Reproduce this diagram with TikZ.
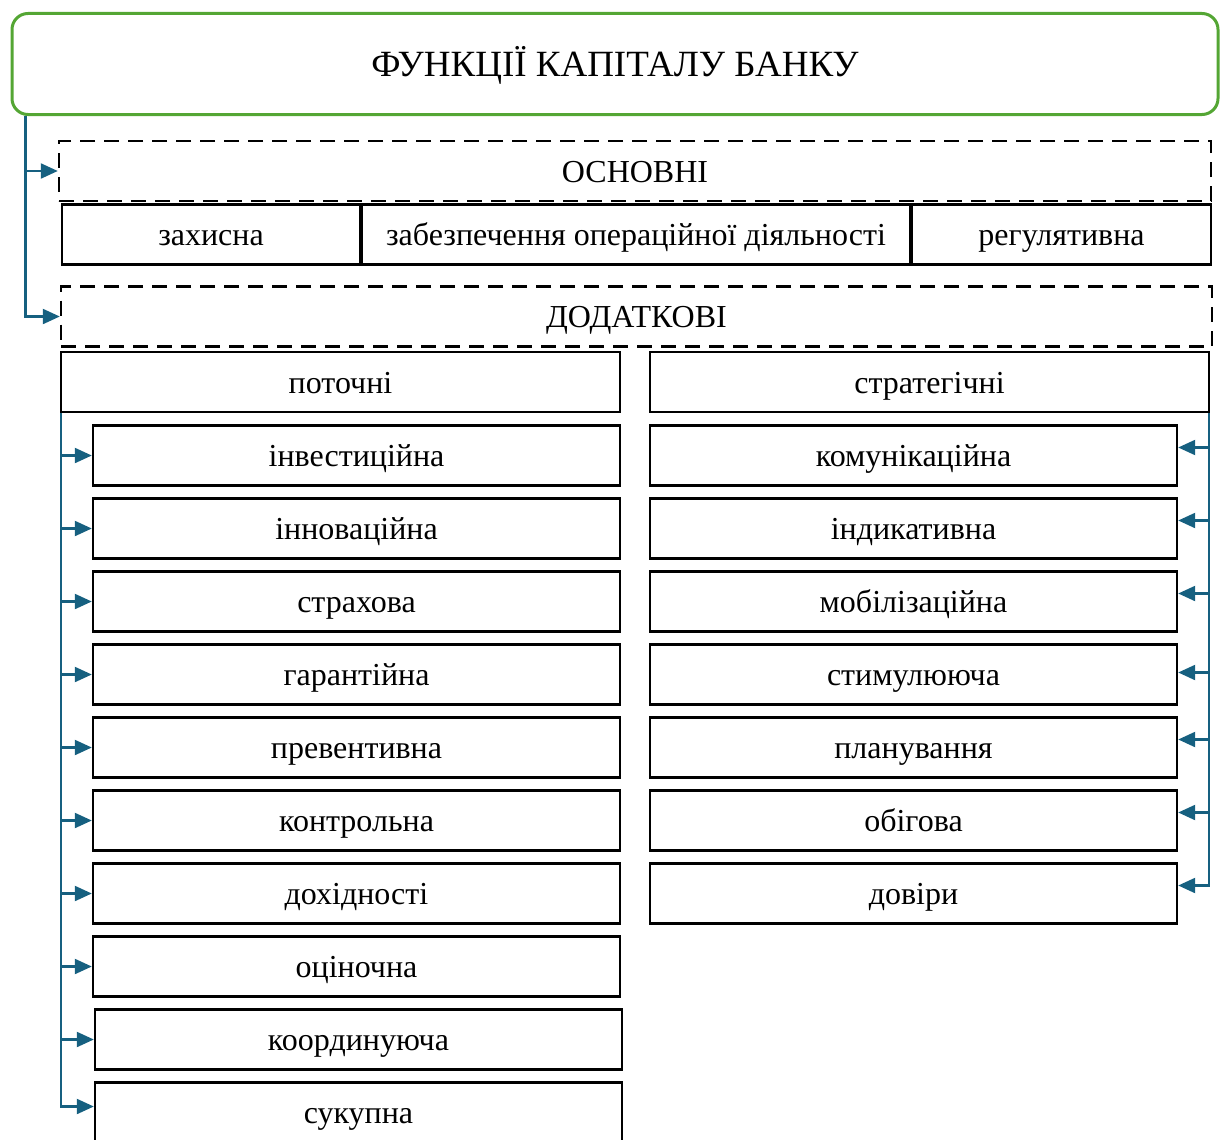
\documentclass[tikz,border=0pt]{standalone}
\usepackage{fontspec}
\setmainfont{Liberation Serif}
\usetikzlibrary{arrows.meta,positioning}
\definecolor{titlegreen}{RGB}{84,166,52}
\definecolor{linkblue}{RGB}{22,96,128}

\begin{document}
\begin{tikzpicture}[x=1pt, y=1pt, node distance=10.6pt, every node/.style={font=\fontsize{32}{38}\selectfont},
			b/.style={draw, line width=2.4pt, minimum height=60pt, inner sep=0pt, align=center, text height=24pt, text depth=2pt},
			grp/.style={b, dash pattern=on 15pt off 9pt},
			item/.style={b, minimum width=527pt},
			link/.style={draw=linkblue, line width=2.2pt, -{Triangle[length=17pt, width=15pt]}}]
			\useasboundingbox (0,0) rectangle (1221,-1140);
			% title
			\node[draw=titlegreen, line width=3pt, rounded corners=16pt, minimum width=1206pt, minimum height=101pt, text height=28pt, text depth=2pt, font=\fontsize{37}{44}\selectfont] (title) at (615,-64) {ФУНКЦІЇ КАПІТАЛУ БАНКУ};
			% main functions
			\node[grp, minimum width=1152pt] (main) at (635,-171) {ОСНОВНІ};
			\node[b, minimum width=298pt] (zakh) at (211,-234.5) {захисна};
			\node[b, minimum width=548pt] (zabez) at (636,-234.5) {забезпечення операційної діяльності};
			\node[b, minimum width=299pt] (regul) at (1061.5,-234.5) {регулятивна};
			% additional functions
			\node[grp, minimum width=1151pt] (extra) at (636.5,-316.5) {ДОДАТКОВІ};
			\node[b, minimum width=559pt] (pot) at (340.5,-382) {поточні};
			\node[b, minimum width=559pt] (strat) at (929.5,-382) {стратегічні};
			% current
			\node[item] (inv) at (356.5,-455.5) {інвестиційна};
			\node[item, below=of inv] (innov) {інноваційна};
			\node[item, below=of innov] (strakh) {страхова};
			\node[item, below=of strakh] (garant) {гарантійна};
			\node[item, below=of garant] (prev) {превентивна};
			\node[item, below=of prev] (kontr) {контрольна};
			\node[item, below=of kontr] (dokh) {дохідності};
			\node[item, below=of dokh] (otsin) {оціночна};
			\node[item, below=of otsin, xshift=2pt] (koord) {координуюча};
			\node[item, below=of koord] (sukup) {сукупна};
			% strategic
			\node[item] (komun) at (913.5,-455.5) {комунікаційна};
			\node[item, below=of komun] (indyk) {індикативна};
			\node[item, below=of indyk] (mobil) {мобілізаційна};
			\node[item, below=of mobil] (stym) {стимулююча};
			\node[item, below=of stym] (plan) {планування};
			\node[item, below=of plan] (obig) {обігова};
			\node[item, below=of obig] (dovir) {довіри};
			% connectors
			\draw[link] ([xshift=15pt]title.south west) |- (main.west);
			\draw[link] ([xshift=15pt]title.south west) |- (extra.west);
			\draw[link] ([xshift=1pt]pot.south west) |- (inv.west);
			\draw[link] ([xshift=1pt]pot.south west) |- (innov.west);
			\draw[link] ([xshift=1pt]pot.south west) |- (strakh.west);
			\draw[link] ([xshift=1pt]pot.south west) |- (garant.west);
			\draw[link] ([xshift=1pt]pot.south west) |- (prev.west);
			\draw[link] ([xshift=1pt]pot.south west) |- (kontr.west);
			\draw[link] ([xshift=1pt]pot.south west) |- (dokh.west);
			\draw[link] ([xshift=1pt]pot.south west) |- (otsin.west);
			\draw[link] ([xshift=1pt]pot.south west) |- (koord.west);
			\draw[link] ([xshift=1pt]pot.south west) |- ([yshift=6pt]sukup.west);
			\draw[link] ([xshift=-1pt]strat.south east) |- ([yshift=8pt]komun.east);
			\draw[link] ([xshift=-1pt]strat.south east) |- ([yshift=8pt]indyk.east);
			\draw[link] ([xshift=-1pt]strat.south east) |- ([yshift=8pt]mobil.east);
			\draw[link] ([xshift=-1pt]strat.south east) |- ([yshift=2pt]stym.east);
			\draw[link] ([xshift=-1pt]strat.south east) |- ([yshift=8pt]plan.east);
			\draw[link] ([xshift=-1pt]strat.south east) |- ([yshift=8pt]obig.east);
			\draw[link] ([xshift=-1pt]strat.south east) |- ([yshift=8pt]dovir.east);
		\end{tikzpicture}
\end{document}
